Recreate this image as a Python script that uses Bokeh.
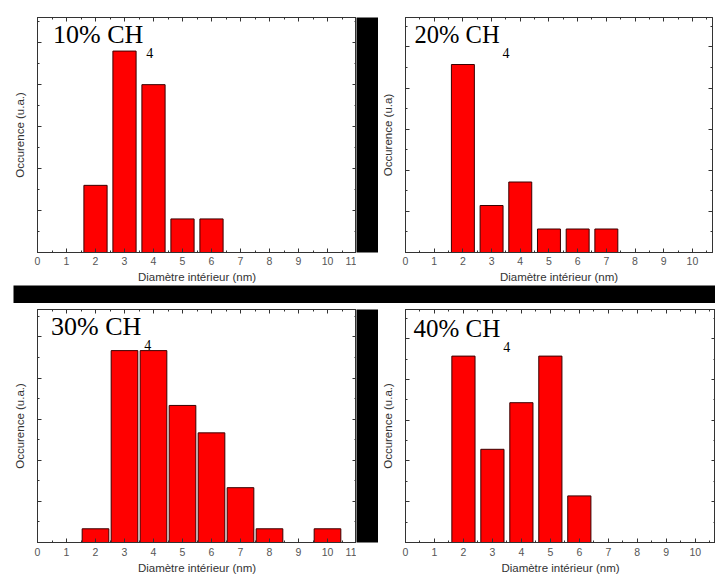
from bokeh.plotting import figure
from bokeh.layouts import column, row
from bokeh.models import LinearAxis, SingleIntervalTicker, FixedTicker, Range1d, Label
from bokeh.embed import file_html
from bokeh.resources import INLINE

# ---- data ----
diam_10 = [2, 3, 4, 5, 6]
occ_10 = [2, 6, 5, 1, 1]
diam_20 = [2, 3, 4, 5, 6, 7]
occ_20 = [8, 2, 3, 1, 1, 1]
diam_30 = [2, 3, 4, 5, 6, 7, 8, 10]
occ_30 = [1, 14, 14, 10, 8, 4, 1, 1]
diam_40 = [2, 3, 4, 5, 6]
occ_40 = [8, 4, 6, 8, 2]

titles = ["10% CH", "20% CH", "30% CH", "40% CH"]
subscript = "4"
ylabels = ["Occurence (u.a.)", "Occurence (u.a)", "Occurence (u.a.)", "Occurence (u.a.)"]
xlabel = "Diamètre intérieur (nm)"

AX = "#333333"
SANS = "Liberation Sans"
SERIF = "Liberation Serif"


def bare_axis(positions, length, label=None, line=False, label_std=0):
    a = LinearAxis(ticker=FixedTicker(ticks=[], minor_ticks=positions))
    a.major_tick_in = 0
    a.major_tick_out = 0
    a.minor_tick_in = length
    a.minor_tick_out = 0
    a.minor_tick_line_color = AX
    a.major_label_standoff = 0
    a.axis_line_color = AX if line else None
    if label is not None:
        a.axis_label = label
        a.axis_label_standoff = label_std
        a.axis_label_text_font = SANS
        a.axis_label_text_font_style = "normal"
        a.axis_label_text_font_size = "11.5px"
        a.axis_label_text_color = "#333333"
    return a


def panel(xs, ys, title, ylabel, width, height, x_end, y_end, y_int, bar_w,
          borders, tdx, tdy, tsize, lab_std, axlab_std, ylab_std):
    left, right, top, bottom = borders
    p = figure(width=width, height=height,
               x_range=Range1d(0, x_end), y_range=Range1d(0, y_end),
               output_backend="svg", toolbar_location=None,
               x_axis_location=None, y_axis_location=None,
               min_border_left=left, min_border_right=right,
               min_border_top=top, min_border_bottom=bottom)
    p.grid.grid_line_color = None
    p.outline_line_color = AX
    p.background_fill_color = "white"
    p.border_fill_color = "white"

    n_x = int(x_end) + 1
    x_major = [float(k) for k in range(n_x)]
    x_minor = [k + 0.5 for k in range(n_x)]
    n_y = int(y_end / y_int) + 1
    y_major = [k * y_int for k in range(n_y)]
    y_minor = [(k + 0.5) * y_int for k in range(n_y)]

    # bottom axis with labels
    bx = LinearAxis(ticker=SingleIntervalTicker(interval=1, num_minor_ticks=2), axis_label=xlabel)
    bx.major_tick_in = 4
    bx.major_tick_out = 0
    bx.minor_tick_in = 2
    bx.minor_tick_out = 0
    bx.axis_line_color = AX
    bx.major_tick_line_color = AX
    bx.minor_tick_line_color = AX
    bx.axis_label_text_font = SANS
    bx.axis_label_text_font_style = "normal"
    bx.axis_label_text_font_size = "11.5px"
    bx.axis_label_text_color = "#333333"
    bx.major_label_text_font = SANS
    bx.major_label_text_font_size = "10.5px"
    bx.major_label_text_color = "#555555"
    bx.major_label_standoff = lab_std
    bx.axis_label_standoff = axlab_std
    p.add_layout(bx, "below")

    # left: minor ticks axis first (innermost), then labelled major-tick axis
    p.add_layout(bare_axis(y_minor, 2, line=True), "left")
    p.add_layout(bare_axis(y_major, 4, label=ylabel, label_std=ylab_std), "left")
    # mirrored ticks on top and right
    p.add_layout(bare_axis(x_minor, 2, line=True), "above")
    p.add_layout(bare_axis(x_major, 4), "above")
    p.add_layout(bare_axis(y_minor, 2, line=True), "right")
    p.add_layout(bare_axis(y_major, 4), "right")

    p.vbar(x=xs, top=ys, bottom=0, width=bar_w,
           fill_color="#ff0000", line_color="#3a0000", line_width=1)

    p.add_layout(Label(x=0, y=y_end, x_offset=tdx, y_offset=-(tdy - 0.4 * tsize), text=title,
                       text_font=SERIF, text_font_size=f"{tsize}px",
                       text_baseline="alphabetic", text_color="black"))
    p.add_layout(Label(x=0, y=y_end, x_offset=tdx + 3.472 * tsize + 3,
                       y_offset=-(tdy + 14 - 0.4 * 14),
                       text=subscript, text_font=SERIF, text_font_size="14px",
                       text_baseline="alphabetic", text_color="black"))
    return p


def sep(w, h, top=0, left=0):
    s = figure(width=w, height=h, output_backend="svg", toolbar_location=None,
               x_axis_location=None, y_axis_location=None,
               min_border=0, min_border_top=top, min_border_left=left)
    s.grid.grid_line_color = None
    s.background_fill_color = "black"
    s.border_fill_color = "white"
    s.outline_line_color = None
    return s


p1 = panel(diam_10, occ_10, titles[0], ylabels[0], 356, 285, 11, 7, 1.25, 0.8,
           (37, 0, 17, 32), 15.5, 27, 26, 4, 3, 12)
p2 = panel(diam_20, occ_20, titles[1], ylabels[1], 337, 285, 10.7, 10, 1.75, 0.8,
           (27, 3, 17, 33), 9, 27, 24.5, 4, 3, 12)
p3 = panel(diam_30, occ_30, titles[2], ylabels[2], 356, 273, 11, 17, 3, 0.92,
           (37, 0, 6, 32), 13.5, 27, 26, 5, 3, 12)
p4 = panel(diam_40, occ_40, titles[3], ylabels[3], 337, 273, 10.7, 10, 1.75, 0.8,
           (25, 0, 5, 33), 8, 29, 25, 5, 3, 12)

v1 = sep(22, 285, top=12)
v2 = sep(22, 273)
hb = sep(715, 18, left=13)

layout = column(row(p1, v1, p2), hb, row(p3, v2, p4))

open("out.html", "w").write(file_html(layout, INLINE))
